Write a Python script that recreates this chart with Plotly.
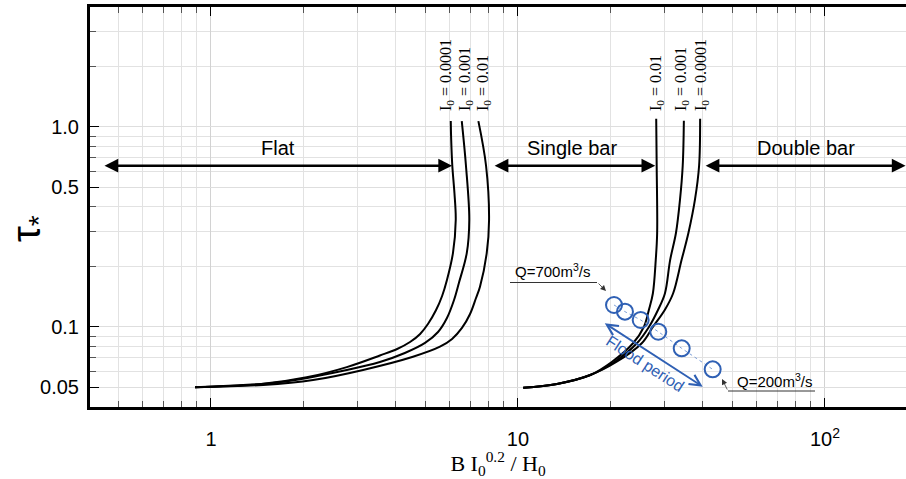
import math
import plotly.graph_objects as go

# ---- regime boundary curves, tau* vs B I0^0.2 / H0 ----
# Flat / single-bar boundary
flat_x_i00001 = [0.887, 1.48, 2.05, 2.77, 3.55, 4.04, 4.45, 4.80, 5.09, 5.41, 5.66, 5.87, 6.14, 6.27, 6.21, 6.11, 6.06, 6.04]
flat_y_i00001 = [0.050, 0.052, 0.056, 0.063, 0.072, 0.0776, 0.0841, 0.0923, 0.1035, 0.1216, 0.1429, 0.1718, 0.234, 0.343, 0.466, 0.64, 0.86, 1.07]
flat_x_i0001 = [0.887, 1.68, 2.77, 3.55, 4.28, 4.98, 5.49, 5.87, 6.19, 6.42, 6.81, 6.94, 6.77, 6.56]
flat_y_i0001 = [0.050, 0.053, 0.061, 0.0668, 0.0741, 0.0832, 0.0944, 0.1109, 0.1365, 0.166, 0.234, 0.343, 0.64, 1.07]
flat_x_i001 = [0.887, 1.48, 2.15, 3.13, 4.55, 5.57, 6.10, 6.57, 6.98, 7.30, 7.52, 7.91, 8.05, 7.87, 7.43]
flat_y_i001 = [0.050, 0.0513, 0.0543, 0.061, 0.071, 0.0797, 0.0871, 0.0989, 0.1161, 0.1396, 0.159, 0.234, 0.343, 0.64, 1.07]

# Single-bar / double-bar boundary
bar_x_i001 = [10.4, 13.4, 17.2, 20.2, 23.7, 25.7, 26.7, 27.5, 28.1, 28.4, 28.3, 28.2]
bar_y_i001 = [0.0497, 0.0519, 0.0575, 0.0668, 0.0829, 0.100, 0.122, 0.147, 0.216, 0.295, 0.64, 1.10]
bar_x_i0001 = [10.4, 13.4, 17.2, 20.6, 24.4, 26.7, 28.6, 30.1, 31.3, 32.7, 33.7, 34.4, 34.7]
bar_y_i0001 = [0.0497, 0.0519, 0.0575, 0.0668, 0.0829, 0.100, 0.122, 0.147, 0.216, 0.295, 0.432, 0.64, 1.075]
bar_x_i00001 = [10.4, 13.4, 17.2, 20.9, 25.3, 27.5, 30.1, 32.0, 34.1, 35.9, 37.7, 38.9, 39.2]
bar_y_i00001 = [0.0497, 0.0519, 0.0575, 0.0668, 0.0829, 0.100, 0.122, 0.147, 0.216, 0.295, 0.432, 0.64, 1.10]

# Observed flood-period states (Q = 700 -> 200 m3/s)
flood_x = [20.55, 22.31, 25.1, 28.64, 34.14, 43.07]
flood_y = [0.1288, 0.1193, 0.1084, 0.0947, 0.0782, 0.0614]

# Axis ticks
x_major = [1, 10, 100]
x_major_text = ["1", "10", "10<sup>2</sup>"]
x_minor = [0.5, 0.6, 0.7, 0.8, 0.9, 2, 3, 4, 5, 6, 7, 8, 9,
           20, 30, 40, 50, 60, 70, 80, 90]
y_major = [0.05, 0.1, 0.5, 1.0]
y_major_text = ["0.05", "0.1", "0.5", "1.0"]
y_minor = [0.06, 0.07, 0.08, 0.09, 0.2, 0.3, 0.4, 0.6, 0.7, 0.8, 0.9, 2, 3]

BLUE = "#2f60b4"
SANS = "Liberation Sans"
SERIF = "Liberation Serif"

fig = go.Figure()

curve_style = dict(color="black", width=2, shape="spline", smoothing=1.0)
for xs, ys in [(flat_x_i00001, flat_y_i00001), (flat_x_i0001, flat_y_i0001),
               (flat_x_i001, flat_y_i001), (bar_x_i001, bar_y_i001),
               (bar_x_i0001, bar_y_i0001), (bar_x_i00001, bar_y_i00001)]:
    fig.add_trace(go.Scatter(x=xs, y=ys, mode="lines", line=curve_style,
                             hoverinfo="skip", showlegend=False))

fig.add_trace(go.Scatter(x=flood_x, y=flood_y, mode="lines",
                         line=dict(color="#7ea0d8", width=1, dash="dot"),
                         showlegend=False, hoverinfo="skip"))
fig.add_trace(go.Scatter(x=flood_x, y=flood_y, mode="markers",
                         marker=dict(symbol="circle-open", size=16,
                                     color=BLUE, line=dict(width=2, color=BLUE)),
                         showlegend=False))

L = math.log10
annotations = []


def px_x(px):
    return (px - 90) / 816


def px_y(py):
    return (407 - py) / 400


def label(px, py, text, size, family=SANS, color="black", angle=0):
    annotations.append(dict(x=px_x(px), y=px_y(py), xref="paper", yref="paper",
                            xanchor="center", yanchor="middle", text=text,
                            textangle=angle, showarrow=False,
                            font=dict(family=family, size=size, color=color)))


# Regime arrows
tau_arrow = 0.64
for x0, x1 in [(0.445, 6.1), (8.3, 28.0), (40.4, 183.0)]:
    annotations.append(dict(x=L(x1), y=L(tau_arrow), ax=L(x0), ay=L(tau_arrow),
                            xref="x", yref="y", axref="x", ayref="y", text="",
                            showarrow=True, arrowhead=2, startarrowhead=2,
                            arrowside="end+start", arrowwidth=2.5, arrowsize=1.1,
                            startarrowsize=1.1, arrowcolor="black",
                            standoff=0, startstandoff=0))
label(278, 148, "Flat", 20)
label(572, 148, "Single bar", 20)
label(806, 148, "Double bar", 20)

# Slope labels on the curves
for txt, px in [("0.0001", 446), ("0.001", 465), ("0.01", 483),
                ("0.01", 656), ("0.001", 681), ("0.0001", 701)]:
    annotations.append(dict(x=px_x(px), y=px_y(113),
                            xref="paper", yref="paper",
                            text="I<sub>0</sub> = " + txt, textangle=-90,
                            xanchor="center", yanchor="bottom", showarrow=False,
                            font=dict(family=SERIF, size=16, color="black")))

# Discharge labels
label(552, 270, "Q=700m<sup>3</sup>/s", 15)
annotations.append(dict(x=px_x(606), y=px_y(291), xref="paper", yref="paper",
                        ax=-9, ay=-9, text="", showarrow=True, arrowhead=2,
                        arrowwidth=0.8, arrowsize=1.4, arrowcolor="#333333"))
label(774, 380, "Q=200m<sup>3</sup>/s", 15)
annotations.append(dict(x=px_x(722), y=px_y(379), xref="paper", yref="paper",
                        ax=6, ay=12, text="", showarrow=True, arrowhead=2,
                        arrowwidth=0.8, arrowsize=1.4, arrowcolor="#333333"))

# Flood period arrow
annotations.append(dict(x=px_x(702.7), y=px_y(386.7), xref="paper", yref="paper",
                        ax=-99.4, ay=-64.4, text="", showarrow=True,
                        arrowhead=5, startarrowhead=5, arrowside="end+start",
                        arrowwidth=1.8, arrowsize=1.2, startarrowsize=1.2,
                        arrowcolor=BLUE, standoff=0, startstandoff=0))
label(645, 363, "Flood period", 16, color=BLUE, angle=33)

# Vertical axis title
label(29, 229, "τ<sub>*</sub>", 40, angle=-90)

shapes = [
    dict(type="line", xref="paper", yref="paper", x0=px_x(510), x1=px_x(597),
         y0=px_y(282.5), y1=px_y(282.5), line=dict(color="#333333", width=1)),
    dict(type="line", xref="paper", yref="paper", x0=px_x(728), x1=px_x(815),
         y0=px_y(391), y1=px_y(391), line=dict(color="#333333", width=1)),
]

fig.update_layout(
    width=906, height=479,
    margin=dict(l=90, r=0, t=7, b=72),
    paper_bgcolor="white", plot_bgcolor="white",
    font=dict(family=SANS, color="black"),
    annotations=annotations, shapes=shapes,
    showlegend=False,
)

fig.update_xaxes(
    type="log", range=[L(0.4036), L(183.6)],
    tickmode="array", tickvals=x_major, ticktext=x_major_text,
    tickfont=dict(family=SANS, size=20), ticklabelstandoff=12,
    ticks="inside", ticklen=9, tickwidth=1, tickcolor="black",
    showline=True, linecolor="black", linewidth=3, mirror="allticks",
    showgrid=True, gridcolor="#d2d2d2", gridwidth=1, zeroline=False,
    minor=dict(tickmode="array", tickvals=x_minor, ticks="inside", ticklen=6,
               tickcolor="#555555", showgrid=True, gridcolor="#e2e2e2", gridwidth=1),
    title=dict(text="B I<sub>0</sub><sup>0.2</sup> / H<sub>0</sub>",
               font=dict(family=SERIF, size=22), standoff=2),
)
fig.update_yaxes(
    type="log", range=[L(0.0398), L(3.98)],
    tickmode="array", tickvals=y_major, ticktext=y_major_text,
    tickfont=dict(family=SANS, size=20), ticklabelstandoff=4,
    ticks="inside", ticklen=9, tickwidth=1, tickcolor="black",
    showline=True, linecolor="black", linewidth=3, mirror=False,
    showgrid=True, gridcolor="#dedede", gridwidth=1, zeroline=False,
    minor=dict(tickmode="array", tickvals=y_minor, ticks="inside", ticklen=6,
               tickcolor="#555555", showgrid=True, gridcolor="#e2e2e2", gridwidth=1),
)

fig.write_html("out.html")
